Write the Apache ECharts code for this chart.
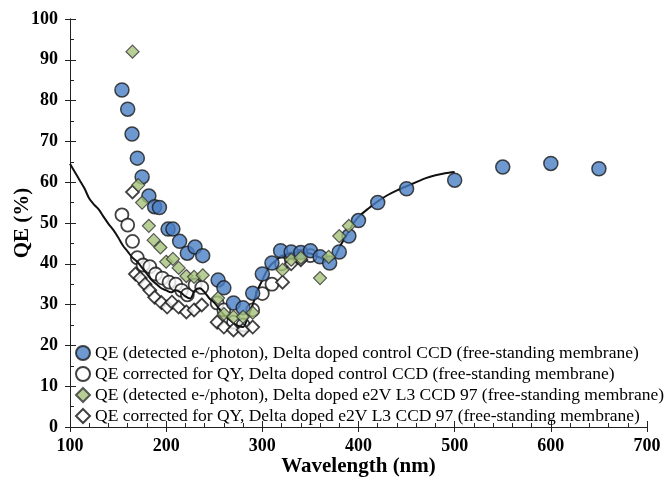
<!DOCTYPE html>
<html>
<head>
<meta charset="utf-8">
<script src="https://cdn.jsdelivr.net/npm/echarts@6/dist/echarts.min.js"></script>
<style>
  html, body { margin: 0; padding: 0; background: #fff; }
  #chart { width: 664px; height: 481px; }
</style>
</head>
<body>
<div id="chart"></div>
<script>
// QE data (wavelength nm, QE %)
const blueWl = [154, 160, 164.5, 170, 175, 182, 188, 193, 202, 207, 214, 222, 230, 238, 254, 260, 270, 280, 290, 300, 310, 319, 330, 340, 350, 360, 370, 380, 390, 400, 420, 450, 500, 550, 600, 650]
const blueQe = [82.6, 77.9, 71.8, 65.9, 61.3, 56.6, 54, 53.8, 48.5, 48.5, 45.5, 42.6, 44.1, 42, 36, 34.1, 30.4, 29.2, 32.8, 37.5, 40.2, 43.2, 42.9, 42.8, 43.2, 41.7, 40.2, 42.9, 46.8, 50.6, 55, 58.4, 60.5, 63.7, 64.6, 63.3]

const openCircWl = [154, 160, 165, 170, 176, 183, 189, 196, 203, 210, 216, 222, 230, 237, 253, 260, 270, 280, 290, 300, 310, 320, 330, 340, 350]
const openCircQe = [52, 49.5, 45.5, 41.5, 39.7, 39.3, 37.5, 36.5, 35.5, 35, 33.5, 32.4, 34.8, 34.2, 30.4, 28.7, 25.7, 25, 28.7, 32.7, 35, 40, 41.2, 41.8, 42]

const greenWl = [165, 171, 175, 182, 187, 194, 200, 207, 213, 221, 229, 238, 254, 260, 270, 280, 290, 321, 330, 340, 360, 369, 380, 390]
const greenQe = [92, 59.3, 55, 49.3, 45.8, 44, 40.5, 41.2, 39, 37, 36.8, 37.2, 31.6, 27.7, 27, 27, 28, 38.5, 41, 41.5, 36.5, 41.7, 46.8, 49.3]

const openDiaWl = [165, 168, 173, 178, 183, 188, 195, 201, 206, 213, 221, 229, 237, 253, 260, 270, 280, 290, 321, 330, 340]
const openDiaQe = [57.6, 37.5, 36.5, 35, 33.5, 31.8, 30.5, 29.4, 30.6, 29.4, 28.2, 28.7, 29.9, 25.7, 24.5, 23.8, 23.8, 24.5, 35.5, 40, 41]

const lineWl = [100, 105, 110, 115, 120, 125, 130, 135, 140, 145, 150, 155, 160, 165, 170, 175, 180, 185, 190, 195, 200, 205, 210, 215, 220, 225, 230, 235, 240, 245, 250, 255, 260, 265, 270, 275, 280, 285, 290, 295, 300, 305, 310, 315, 320, 330, 340, 350, 355, 360, 365, 370, 375, 380, 385, 390, 395, 400, 410, 420, 430, 440, 450, 460, 470, 480, 490, 500]
const lineQe = [64.5, 62.5, 60.5, 58.5, 56, 54.5, 53.3, 51.5, 49.8, 48.3, 46.5, 44.5, 43, 41.5, 40.5, 39, 37.5, 36, 35, 34, 33.5, 33, 33.5, 33, 32, 31.5, 33.5, 34, 33, 31.5, 30.5, 29, 27.5, 26.5, 25.5, 24.8, 24.5, 27, 30, 33.5, 36, 38.5, 40, 41, 42, 42.5, 42.8, 42.5, 42, 41.5, 41, 40.8, 41.5, 44, 46, 48, 50, 51.5, 53.5, 55.3, 56.8, 58, 59, 60, 61, 61.7, 62.2, 62.5]

const seriesNames = [
  'QE (detected e-/photon), Delta doped control CCD (free-standing membrane)',
  'QE corrected for QY, Delta doped control CCD (free-standing membrane)',
  'QE (detected e-/photon), Delta doped e2V L3 CCD 97 (free-standing membrane)',
  'QE corrected for QY, Delta doped e2V L3 CCD 97 (free-standing membrane)'
]

const pairs = (xs, ys) => xs.map((x, i) => [x, ys[i]])

const serif = 'Liberation Serif'
let myChart = echarts.init(document.getElementById('chart'))

const baseX = {
  type: 'value', min: 100, max: 700, interval: 100,
  axisLine: { lineStyle: { color: '#222', width: 1 } },
  splitLine: { show: false }
}
const baseY = {
  type: 'value', min: 0, max: 100, interval: 10,
  axisLine: { show: true, lineStyle: { color: '#222', width: 1 } },
  splitLine: { show: false }
}

var option = {
  backgroundColor: '#fff',
  animation: false,
  grid: { left: 70, right: 17, top: 19, bottom: 54, containLabel: false, outerBoundsMode: 'none' },
  legend: {
    data: seriesNames,
    orient: 'vertical',
    left: 75,
    top: 344,
    itemGap: 3,
    itemWidth: 14,
    itemHeight: 14,
    padding: [0, 0, 0, 0],
    textStyle: { fontFamily: serif, fontSize: 17.5, lineHeight: 17, color: '#000' }
  },
  xAxis: [
    Object.assign({}, baseX, {
      name: 'Wavelength (nm)',
      nameLocation: 'middle',
      nameGap: 29,
      nameMoveOverlap: false,
      nameTextStyle: { fontFamily: serif, fontSize: 21, fontWeight: 'bold', color: '#000' },
      axisTick: { inside: true, length: 6, lineStyle: { color: '#222' } },
      minorTick: { show: true, splitNumber: 5, length: 4, lineStyle: { color: '#222' } },
      axisLabel: { fontFamily: serif, fontSize: 18, fontWeight: 'bold', color: '#000', margin: 10 }
    }),
    // outside half of the major ticks
    Object.assign({}, baseX, {
      position: 'bottom',
      axisTick: { inside: false, length: 5, lineStyle: { color: '#222' } },
      axisLabel: { show: false }
    })
  ],
  yAxis: [
    Object.assign({}, baseY, {
      name: 'QE (%)',
      nameLocation: 'middle',
      nameGap: 37,
      nameMoveOverlap: false,
      nameTextStyle: { fontFamily: serif, fontSize: 21, fontWeight: 'bold', color: '#000' },
      axisTick: { show: true, inside: true, length: 6, lineStyle: { color: '#222' } },
      minorTick: { show: true, splitNumber: 2, length: 4, lineStyle: { color: '#222' } },
      axisLabel: { fontFamily: serif, fontSize: 18, fontWeight: 'bold', color: '#000', margin: 12 }
    }),
    Object.assign({}, baseY, {
      position: 'left',
      axisTick: { show: true, inside: false, length: 5, lineStyle: { color: '#222' } },
      axisLabel: { show: false }
    })
  ],
  series: [
    {
      name: seriesNames[1],
      type: 'scatter',
      symbol: 'circle',
      symbolSize: 13,
      itemStyle: { color: '#fff', borderColor: '#111', borderWidth: 1.8 },
      data: pairs(openCircWl, openCircQe),
      z: 2
    },
    {
      name: seriesNames[3],
      type: 'scatter',
      symbol: 'diamond',
      symbolSize: 13,
      itemStyle: { color: '#fff', borderColor: '#111', borderWidth: 1.8 },
      data: pairs(openDiaWl, openDiaQe),
      z: 2
    },
    {
      name: 'model',
      type: 'line',
      symbol: 'none',
      smooth: 0.3,
      lineStyle: { color: '#111', width: 2 },
      data: pairs(lineWl, lineQe),
      z: 3
    },
    {
      name: seriesNames[0],
      type: 'scatter',
      symbol: 'circle',
      symbolSize: 14,
      itemStyle: { color: '#4a7ec4', borderColor: '#1a1a1a', borderWidth: 1.5 },
      data: pairs(blueWl, blueQe),
      z: 4
    },
    {
      name: seriesNames[2],
      type: 'scatter',
      symbol: 'diamond',
      symbolSize: 13,
      itemStyle: { color: '#a5c27a', borderColor: '#333', borderWidth: 1.2 },
      data: pairs(greenWl, greenQe),
      z: 5
    }
  ]
}
myChart.setOption(option)
</script>
</body>
</html>
